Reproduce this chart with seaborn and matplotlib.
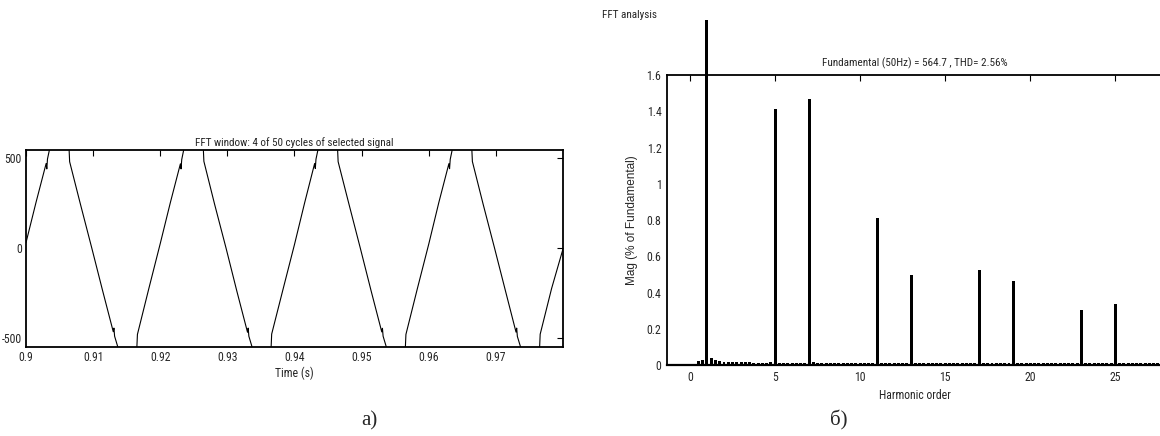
import matplotlib
matplotlib.use("Agg")
import matplotlib.pyplot as plt
import seaborn as sns
import numpy as np
import pandas as pd
from matplotlib import font_manager
from matplotlib.transforms import Bbox, TransformedBbox
from matplotlib.ticker import FuncFormatter

# ---------------- data: panel a) waveform (read from picture) ----------------
time_s = [
    0.9000, 0.9015, 0.9030, 0.9031, 0.9032, 0.9036, 0.9050, 0.9064, 0.9065, 0.9081,
    0.9098, 0.9114, 0.9130, 0.9131, 0.9132, 0.9138, 0.9150, 0.9165, 0.9166, 0.9183,
    0.9200, 0.9215, 0.9230, 0.9231, 0.9232, 0.9236, 0.9250, 0.9264, 0.9265, 0.9281,
    0.9298, 0.9314, 0.9330, 0.9331, 0.9332, 0.9338, 0.9350, 0.9365, 0.9366, 0.9383,
    0.9400, 0.9415, 0.9430, 0.9431, 0.9432, 0.9436, 0.9450, 0.9464, 0.9465, 0.9481,
    0.9498, 0.9514, 0.9530, 0.9531, 0.9532, 0.9538, 0.9550, 0.9565, 0.9566, 0.9583,
    0.9600, 0.9615, 0.9630, 0.9631, 0.9632, 0.9636, 0.9650, 0.9664, 0.9665, 0.9681,
    0.9698, 0.9714, 0.9730, 0.9731, 0.9732, 0.9738, 0.9750, 0.9765, 0.9766, 0.9783,
    0.9800,
]
voltage = [
    30, 255, 470, 440, 495, 565, 570, 565, 480, 245,
    0, -235, -465, -445, -490, -565, -570, -565, -480, -225,
    25, 252, 468, 440, 492, 565, 570, 565, 482, 243,
    0, -238, -468, -445, -490, -565, -570, -565, -478, -228,
    20, 250, 470, 442, 494, 565, 570, 565, 480, 246,
    0, -236, -466, -446, -490, -565, -570, -565, -480, -226,
    22, 253, 469, 441, 493, 565, 570, 565, 481, 244,
    0, -234, -467, -445, -491, -565, -570, -565, -479, -225,
    -5,
]
wave_yticks = [-500, 0, 500]
wave_xticks = [0.90, 0.91, 0.92, 0.93, 0.94, 0.95, 0.96, 0.97]

# ---------------- data: panel б) FFT spectrum (read from picture) ----------------
harmonic_order = np.arange(0, 30.01, 0.25)
floor_level = 0.011
peak_mags = {
    0.0: 0.0, 0.25: 0.006, 0.5: 0.022, 0.75: 0.030, 1.0: 100.0, 1.25: 0.038,
    1.5: 0.025, 1.75: 0.020, 2.0: 0.018, 2.25: 0.016, 2.5: 0.016, 2.75: 0.015,
    3.0: 0.015, 3.25: 0.015, 3.5: 0.015, 4.75: 0.014,
    5.0: 1.415, 7.0: 1.465, 7.25: 0.016, 11.0: 0.810, 13.0: 0.497,
    17.0: 0.523, 19.0: 0.465, 23.0: 0.306, 25.0: 0.335,
}
mag_pct = [peak_mags.get(float(h), floor_level) for h in harmonic_order]
fft_xticks = [0, 5, 10, 15, 20, 25]
fft_yticks = [0, 0.2, 0.4, 0.6, 0.8, 1.0, 1.2, 1.4, 1.6]

# ---------------- style ----------------
sns.set_theme(style="white")
names = {f.name for f in font_manager.fontManager.ttflist}
narrow = next((n for n in ["Liberation Sans Narrow", "Arial Narrow", "Roboto Condensed",
                           "Open Sans Condensed", "Nimbus Sans Narrow"] if n in names), None)
if narrow:
    plt.rcParams["font.family"] = [narrow, "Liberation Sans", "DejaVu Sans"]
    FS = 8
else:
    plt.rcParams["font.family"] = ["Liberation Sans", "DejaVu Sans"]
    FS = 7
plt.rcParams["axes.unicode_minus"] = False

W, H = 1160, 436
fig = plt.figure(figsize=(W / 100, H / 100), dpi=100)

def px_axes(x0, x1, y0, y1):
    return fig.add_axes([x0 / W, 1 - y1 / H, (x1 - x0) / W, (y1 - y0) / H])

# ---------------- panel a) ----------------
ax1 = px_axes(26, 563, 150, 347)
wave_df = pd.DataFrame({"t": time_s, "v": voltage})
sns.lineplot(data=wave_df, x="t", y="v", sort=False, estimator=None,
             color="black", linewidth=0.8, ax=ax1)
ax1.set_xlim(0.9, 0.98)
ax1.set_ylim(-550, 545)
ax1.set_xticks(wave_xticks)
ax1.set_yticks(wave_yticks)
ax1.xaxis.set_major_formatter(FuncFormatter(lambda v, p: f"{v:g}"))
ax1.set_xlabel("Time (s)", fontsize=FS + 0.5, labelpad=2)
ax1.set_ylabel("")
ax1.set_title("FFT window: 4 of 50 cycles of selected signal", fontsize=FS, pad=3)
ax1.tick_params(direction="in", top=True, right=True, length=4, width=0.8,
                labelsize=FS + 0.5, pad=3, color="black")
for s in ax1.spines.values():
    s.set_linewidth(1.3)
    s.set_color("black")

# ---------------- panel б) ----------------
ax2 = px_axes(667, 1163, 75, 365)
fft_df = pd.DataFrame({"order": harmonic_order, "mag": mag_pct})
sns.barplot(data=fft_df, x="order", y="mag", native_scale=True, width=0.7,
            color="black", saturation=1, linewidth=0, errorbar=None, ax=ax2)
ax2.set_xlim(-1.35, 27.8)
ax2.set_ylim(0, 1.6)
ax2.set_xticks(fft_xticks)
ax2.set_yticks(fft_yticks)
ax2.yaxis.set_major_formatter(FuncFormatter(lambda v, p: f"{v:g}"))
ax2.set_xlabel("Harmonic order", fontsize=FS + 0.5, labelpad=4)
ax2.set_ylabel("Mag (% of Fundamental)", fontsize=8.5, labelpad=6,
               family=["Liberation Sans", "DejaVu Sans"])
ax2.set_title("Fundamental (50Hz) = 564.7 , THD= 2.56%", fontsize=FS, pad=6)
ax2.tick_params(direction="in", top=True, right=False, length=4, width=0.8,
                labelsize=FS + 0.5, pad=4, color="black")
for s in ax2.spines.values():
    s.set_linewidth(1.3)
    s.set_color("black")
ax2.spines["bottom"].set_linewidth(1.6)
# bars may rise above the axes, as in the original screenshot
clip = TransformedBbox(Bbox([[0, 0], [1, 1.19]]), ax2.transAxes)
for p in ax2.patches:
    p.set_clip_box(clip)

fig.text(602 / W, 1 - 15 / H, "FFT analysis", fontsize=FS, ha="left", va="center")
fig.text(369 / W, 1 - 421 / H, "а)", fontsize=15, ha="center", va="center",
         family=["Liberation Serif", "DejaVu Serif"])
fig.text(839 / W, 1 - 420 / H, "б)", fontsize=15, ha="center", va="center",
         family=["Liberation Serif", "DejaVu Serif"])

fig.savefig("out.png", dpi=100)
